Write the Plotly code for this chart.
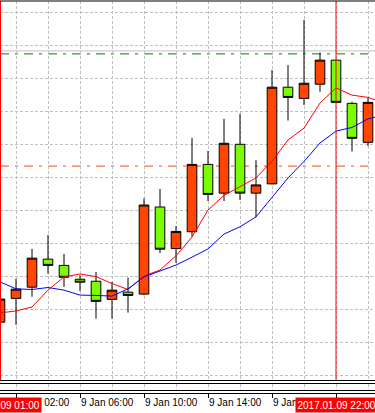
import plotly.graph_objects as go

# ---- data (EURUSD H1, 9 Jan 2017) ----
times = ["2017-01-09 01:00", "2017-01-09 02:00", "2017-01-09 03:00", "2017-01-09 04:00",
         "2017-01-09 05:00", "2017-01-09 06:00", "2017-01-09 07:00", "2017-01-09 08:00",
         "2017-01-09 09:00", "2017-01-09 10:00", "2017-01-09 11:00", "2017-01-09 12:00",
         "2017-01-09 13:00", "2017-01-09 14:00", "2017-01-09 15:00", "2017-01-09 16:00",
         "2017-01-09 17:00", "2017-01-09 18:00", "2017-01-09 19:00", "2017-01-09 20:00",
         "2017-01-09 21:00", "2017-01-09 22:00", "2017-01-09 23:00", "2017-01-10 00:00"]
ma_times = times + ["2017-01-10 01:00"]

open_ = [1.05061, 1.05133, 1.05167, 1.05252, 1.05233, 1.05191, 1.05185, 1.05130,
         1.05152, 1.05146, 1.05410, 1.05284, 1.05335, 1.05539, 1.05452, 1.05600,
         1.05452, 1.05480, 1.05773, 1.05739, 1.05782, 1.05855, 1.05724, 1.05606]
high = [1.05143, 1.05193, 1.05283, 1.05325, 1.05268, 1.05203, 1.05213, 1.05183,
        1.05196, 1.05436, 1.05465, 1.05352, 1.05620, 1.05580, 1.05677, 1.05692,
        1.05552, 1.05825, 1.05840, 1.05977, 1.05878, 1.05855, 1.05729, 1.05742]
low = [1.05046, 1.05053, 1.05138, 1.05208, 1.05168, 1.05155, 1.05072, 1.05072,
       1.05090, 1.05143, 1.05270, 1.05241, 1.05320, 1.05428, 1.05428, 1.05431,
       1.05379, 1.05479, 1.05672, 1.05719, 1.05759, 1.05727, 1.05578, 1.05595]
close = [1.05131, 1.05161, 1.05255, 1.05233, 1.05197, 1.05182, 1.05124, 1.05158,
         1.05142, 1.05416, 1.05282, 1.05336, 1.05539, 1.05448, 1.05603, 1.05452,
         1.05477, 1.05773, 1.05742, 1.05785, 1.05855, 1.05727, 1.05618, 1.05727]

ma_fast = [1.05089, 1.05095, 1.05107, 1.05158, 1.05198, 1.05207, 1.05199, 1.05178,
           1.05160, 1.05201, 1.05219, 1.05262, 1.05319, 1.05401, 1.05445, 1.05471,
           1.05498, 1.05549, 1.05613, 1.05649, 1.05725, 1.05771, 1.05749, 1.05742, 1.05725]
ma_slow = [1.05183, 1.05162, 1.05160, 1.05166, 1.05158, 1.05143, 1.05142, 1.05140,
           1.05162, 1.05198, 1.05216, 1.05234, 1.05258, 1.05283, 1.05328, 1.05350,
           1.05380, 1.05439, 1.05498, 1.05548, 1.05604, 1.05640, 1.05651, 1.05677, 1.05689]

level_green = 1.05874
level_orange = 1.05534
ask_line = 1.05883
vlines = ["2017-01-09 01:00", "2017-01-09 22:00"]
vline_labels = ["2017.01.09 01:00", "2017.01.09 22:00"]

# ---- layout geometry ----
W, H = 375, 413
B = 20
PH = H - B  # plot area height (t=0)
def py(px):
    return 1 - px / PH

GRID = "#C0C0C0"
fig = go.Figure()

fig.add_trace(go.Candlestick(
    x=times, open=open_, high=high, low=low, close=close,
    increasing=dict(fillcolor="#FF4500", line=dict(color="black", width=1)),
    decreasing=dict(fillcolor="#7CFC00", line=dict(color="black", width=1)),
    whiskerwidth=0, showlegend=False, hoverinfo="skip",
    xaxis="x", yaxis="y"))

fig.add_trace(go.Scatter(x=ma_times, y=ma_fast, mode="lines",
                         line=dict(color="#FF0000", width=1), showlegend=False,
                         hoverinfo="skip", xaxis="x", yaxis="y"))
fig.add_trace(go.Scatter(x=ma_times, y=ma_slow, mode="lines",
                         line=dict(color="#0000FF", width=1), showlegend=False,
                         hoverinfo="skip", xaxis="x", yaxis="y"))
# empty indicator sub-window
fig.add_trace(go.Scatter(x=[times[0]], y=[0.5], mode="markers", marker=dict(opacity=0),
                         showlegend=False, hoverinfo="skip", xaxis="x", yaxis="y2"))

x_end_ms = 375 / 16  # visible hours
import datetime as _dt
x0 = _dt.datetime(2017, 1, 9, 1, 0)
x1 = x0 + _dt.timedelta(hours=x_end_ms)

shapes = []
# price level lines
shapes.append(dict(type="line", xref="paper", x0=0, x1=1, yref="y", y0=ask_line, y1=ask_line,
                   line=dict(color=GRID, width=1), layer="below"))
for lv, col in [(level_green, "#008000"), (level_orange, "#FF4500")]:
    shapes.append(dict(type="line", xref="x", x0=times[0], x1=times[-1], yref="y", y0=lv, y1=lv,
                       line=dict(color=col, width=1, dash="9px,6px,3px,6px"), layer="below"))
# vertical period separators
for i, t in enumerate(vlines):
    shapes.append(dict(type="line", xref="x", x0=t, x1=t, yref="y domain", y0=0, y1=1,
                       line=dict(color="#FF0000", width=2 if i == 0 else 1), layer="above"))
# borders
for px in [1, 380.5, 383.5, 390.5]:
    shapes.append(dict(type="line", xref="paper", x0=0, x1=1, yref="paper", y0=py(px), y1=py(px),
                       line=dict(color="black", width=1), layer="above"))

annotations = []
for t, lab in zip(vlines, vline_labels):
    annotations.append(dict(x=t, xref="x", y=py(397.3), yref="paper", yanchor="top",
                            xanchor="center", text=lab, showarrow=False, bgcolor="#FF0000",
                            font=dict(color="white", size=10, family="Liberation Sans"),
                            borderpad=1.5))

fig.update_layout(
    width=W, height=H,
    margin=dict(l=0, r=0, t=0, b=B, pad=0),
    paper_bgcolor="white", plot_bgcolor="white",
    hovermode=False, showlegend=False,
    boxgap=0.4, boxgroupgap=0,
    xaxis=dict(
        type="date", range=[x0, x1], anchor="free", position=0,
        rangeslider=dict(visible=False),
        tick0="2017-01-09 02:00", dtick=4 * 3600 * 1000,
        tickformat="%-d %b %H:%M", ticklabelposition="outside right",
        ticks="outside", ticklen=4, tickcolor="black", tickwidth=1,
        showline=True, linecolor="black", linewidth=1,
        showgrid=True, gridcolor=GRID, griddash="3px,2px", gridwidth=1,
        minor=dict(tick0="2017-01-09 02:00", dtick=2 * 3600 * 1000, showgrid=True,
                   gridcolor=GRID, griddash="3px,2px", gridwidth=1, ticks=""),
        tickfont=dict(family="Liberation Sans", size=10, color="black"),
        zeroline=False, fixedrange=True),
    yaxis=dict(
        domain=[py(380.5), py(1)], range=[1.048842, 1.060342],
        tick0=1.06, dtick=0.001, showticklabels=False, ticks="",
        showgrid=True, gridcolor=GRID, griddash="3px,2px", gridwidth=1,
        zeroline=False, showline=False, fixedrange=True),
    yaxis2=dict(
        domain=[py(390.5), py(383.5)], range=[0, 1], showgrid=False,
        showticklabels=False, ticks="", zeroline=False, showline=False, fixedrange=True),
    shapes=shapes, annotations=annotations,
)

fig.write_html("out.html")
